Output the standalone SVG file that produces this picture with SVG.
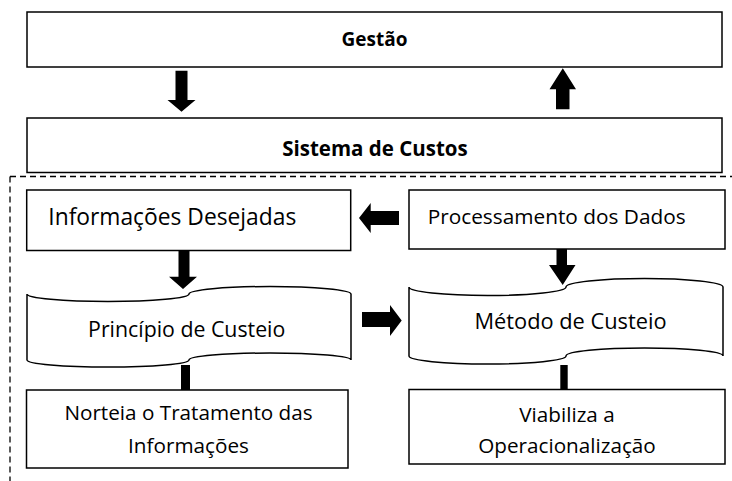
<svg xmlns="http://www.w3.org/2000/svg" width="732" height="481" viewBox="0 0 732 481">
<style>
.box{fill:#fff;stroke:#000;stroke-width:1.5}
.t{font-family:"Open Sans","Noto Sans","Liberation Sans",sans-serif;fill:#000;text-anchor:middle}
.b{font-weight:bold}
.arr{fill:#000;stroke:none}
.dash{fill:none;stroke:#000;stroke-width:1.3;stroke-dasharray:6 4}
</style>
<rect width="732" height="481" fill="#fff"/>
<g id="boundary">
<path class="dash" d="M10,176.5 H732 M10,176.5 V481"/>
</g>
<g id="gestao">
<rect class="box" x="27" y="12" width="695" height="55"/>
<text class="t b" x="374.5" y="46" font-size="19">Gestão</text>
</g>
<g id="sistema">
<rect class="box" x="27" y="118" width="695" height="54.5"/>
<text class="t b" x="375" y="155.5" font-size="20.5">Sistema de Custos</text>
</g>
<g id="informacoes">
<rect class="box" x="26.7" y="190" width="324" height="60.5"/>
<text class="t" x="48.3" y="225" font-size="22.8" style="text-anchor:start">Informações Desejadas</text>
</g>
<g id="processamento">
<rect class="box" x="409" y="190" width="316" height="59"/>
<text class="t" x="427.7" y="224.3" font-size="20.8" style="text-anchor:start">Processamento dos Dados</text>
</g>
<g id="principio">
<path class="box" d="M27,294 A81,7.5 0 0 0 189,294 A81,7.5 0 0 1 351,294 L351,360 A81,7 0 0 0 189,360 A81,7 0 0 1 27,360 Z"/>
<text class="t" x="186.7" y="337.3" font-size="21.3">Princípio de Custeio</text>
</g>
<g id="metodo">
<path class="box" d="M409,287 A78.5,8.5 0 0 0 566,287 A78.5,8.5 0 0 1 723,287 L723,356 A78.5,8 0 0 0 566,356 A78.5,8 0 0 1 409,356 Z"/>
<text class="t" x="570.5" y="329" font-size="21.8">Método de Custeio</text>
</g>
<g id="norteia">
<rect class="box" x="26.5" y="390" width="321.5" height="78"/>
<text class="t" x="188.5" y="420" font-size="20.7">Norteia o Tratamento das</text>
<text class="t" x="188.5" y="453.3" font-size="20.7">Informações</text>
</g>
<g id="viabiliza">
<rect class="box" x="409" y="389.5" width="316" height="74.5"/>
<text class="t" x="567" y="421.7" font-size="20.7">Viabiliza a</text>
<text class="t" x="567" y="453.3" font-size="20.7">Operacionalização</text>
</g>
<g id="connectors">
<polygon class="arr" points="175.5,70.7 187.5,70.7 187.5,100 195.5,100 181.5,111.7 167.5,100 175.5,100"/>
<polygon class="arr" points="556,109.3 569.5,109.3 569.5,89.3 576,89.3 562.8,68.3 549.5,89.3 556,89.3"/>
<polygon class="arr" points="399,211 370.7,211 370.7,203 359,218 370.7,233 370.7,225 399,225"/>
<polygon class="arr" points="362,312 390,312 390,305 401.7,320.5 390,336 390,327 362,327"/>
<polygon class="arr" points="178.5,250.5 189.5,250.5 189.5,276.7 197,276.7 183,289 169,276.7 178.5,276.7"/>
<polygon class="arr" points="556.5,249 567,249 567,265 575.5,265 562.7,285 549,265 556.5,265"/>
<rect class="arr" x="181" y="365" width="9" height="25"/>
<rect class="arr" x="560.3" y="365" width="7.4" height="24.5"/>
</g>
</svg>
